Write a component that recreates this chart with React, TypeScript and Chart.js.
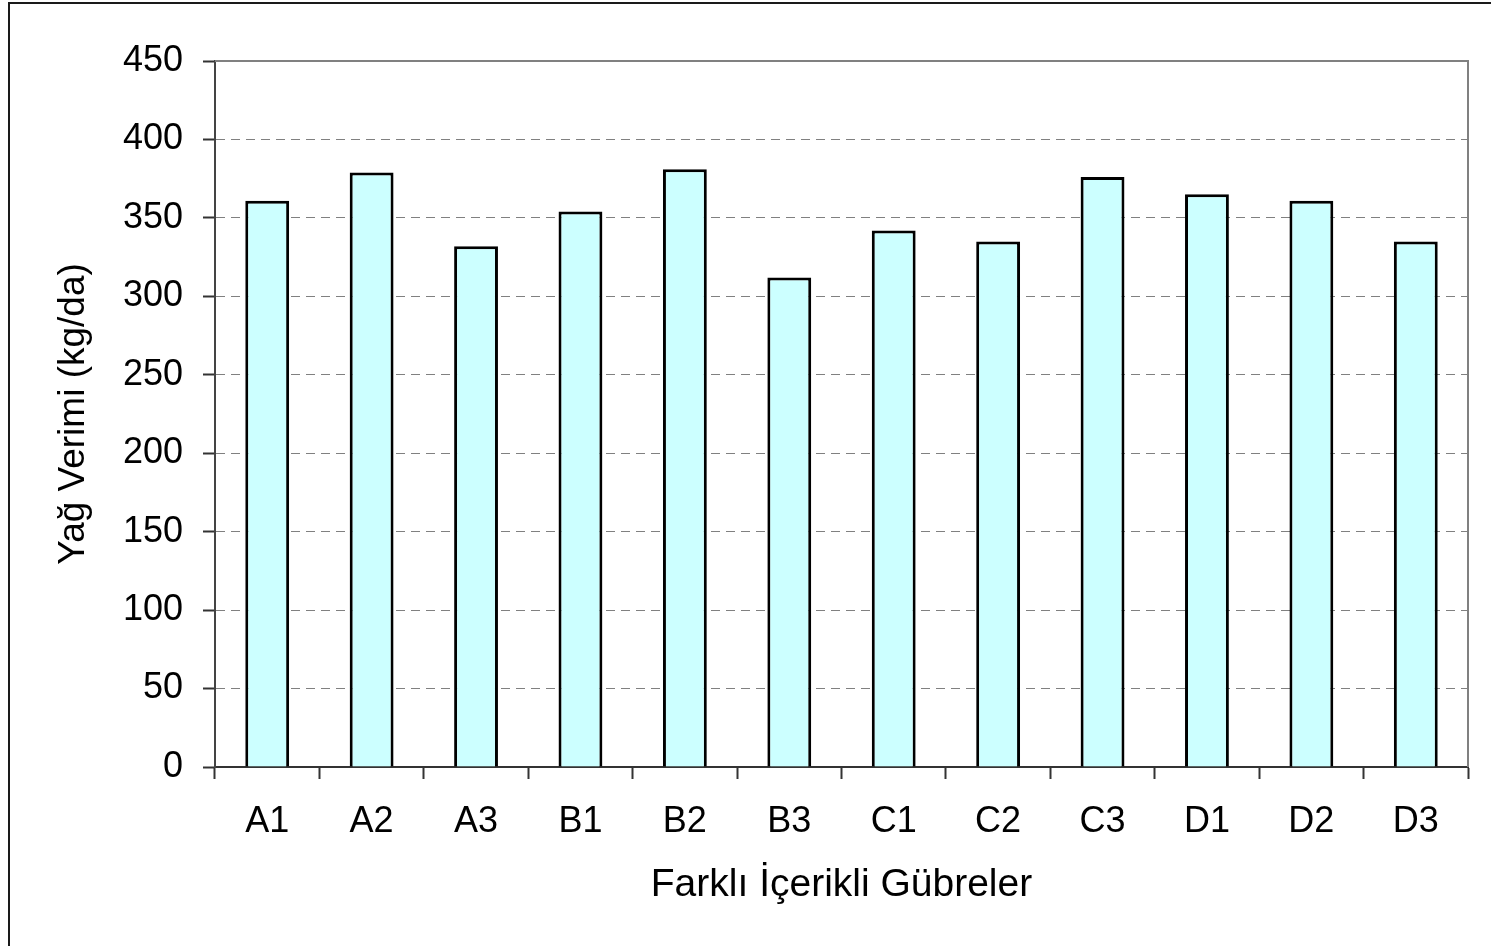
import React, { useEffect, useRef } from "react";
import { Chart, registerables } from "chart.js";

Chart.register(...registerables);

const categories = ["A1", "A2", "A3", "B1", "B2", "B3", "C1", "C2", "C3", "D1", "D2", "D3"];
const yieldValues = [361, 379, 332, 354, 381, 312, 342, 335, 376, 365, 361, 335];
const yMin = 0;
const yMax = 450;
const yStep = 50;
const xTitle = "Farklı İçerikli Gübreler";
const yTitle = "Yağ Verimi (kg/da)";

const FONT = "'Liberation Sans', Arial, sans-serif";

const framePlugin = {
  id: "framePlugin",
  afterDatasetsDraw(chart: any) {
    const { ctx, chartArea } = chart;
    ctx.save();
    ctx.strokeStyle = "#808080";
    ctx.lineWidth = 2;
    ctx.beginPath();
    ctx.moveTo(chartArea.left, chartArea.top);
    ctx.lineTo(chartArea.right, chartArea.top);
    ctx.lineTo(chartArea.right, chartArea.bottom);
    ctx.stroke();
    ctx.restore();
  },
};

export default function App() {
  const canvasRef = useRef<HTMLCanvasElement | null>(null);

  useEffect(() => {
    if (!canvasRef.current) return;
    const chart = new Chart(canvasRef.current, {
      type: "bar",
      data: {
        labels: categories,
        datasets: [
          {
            data: yieldValues,
            backgroundColor: "#CCFFFF",
            borderColor: "#000000",
            borderWidth: 3,
            barPercentage: 0.42,
            categoryPercentage: 1,
          },
        ],
      },
      options: {
        responsive: false,
        animation: false,
        devicePixelRatio: 1,
        layout: { padding: { top: 61, right: 23, bottom: 0, left: 0 } },
        plugins: {
          legend: { display: false },
          tooltip: { enabled: false },
          title: { display: false },
        },
        scales: {
          x: {
            afterFit: (scale: any) => {
              scale.height = 179;
            },
            grid: {
              offset: true,
              drawOnChartArea: false,
              drawTicks: true,
              tickLength: 12,
              tickColor: "#333333",
              tickWidth: 2,
            },
            border: { display: true, color: "#333333", width: 2 },
            ticks: {
              color: "#000000",
              padding: 21,
              font: { family: FONT, size: 36 },
              maxRotation: 0,
              autoSkip: false,
            },
            title: {
              display: true,
              text: xTitle,
              color: "#000000",
              font: { family: FONT, size: 39 },
              padding: { top: 0, bottom: 37 },
            },
          },
          y: {
            min: yMin,
            max: yMax,
            afterFit: (scale: any) => {
              scale.width = 215;
            },
            grid: {
              color: "#808080",
              lineWidth: 1,
              drawTicks: true,
              tickLength: 12,
              tickColor: "#333333",
              tickWidth: 2,
              tickBorderDash: [],
            },
            border: { display: true, color: "#444444", width: 2, dash: [9, 6] },
            ticks: {
              stepSize: yStep,
              color: "#000000",
              padding: 20,
              font: { family: FONT, size: 36 },
            },
            title: {
              display: true,
              text: yTitle,
              color: "#000000",
              font: { family: FONT, size: 37 },
              padding: { top: 52, bottom: 0 },
            },
          },
        },
      },
      plugins: [framePlugin],
    });
    return () => chart.destroy();
  }, []);

  return (
    <div
      style={{
        position: "fixed",
        left: 0,
        top: 0,
        width: 1491,
        height: 946,
        overflow: "hidden",
        background: "#ffffff",
      }}
    >
      <canvas
        ref={canvasRef}
        width={1491}
        height={946}
        style={{ position: "absolute", left: 0, top: 0, width: 1491, height: 946 }}
      />
      <div
        style={{
          position: "absolute",
          left: 8,
          top: 2,
          width: 2000,
          height: 2000,
          border: "2px solid #1a1a1a",
          pointerEvents: "none",
        }}
      />
    </div>
  );
}
